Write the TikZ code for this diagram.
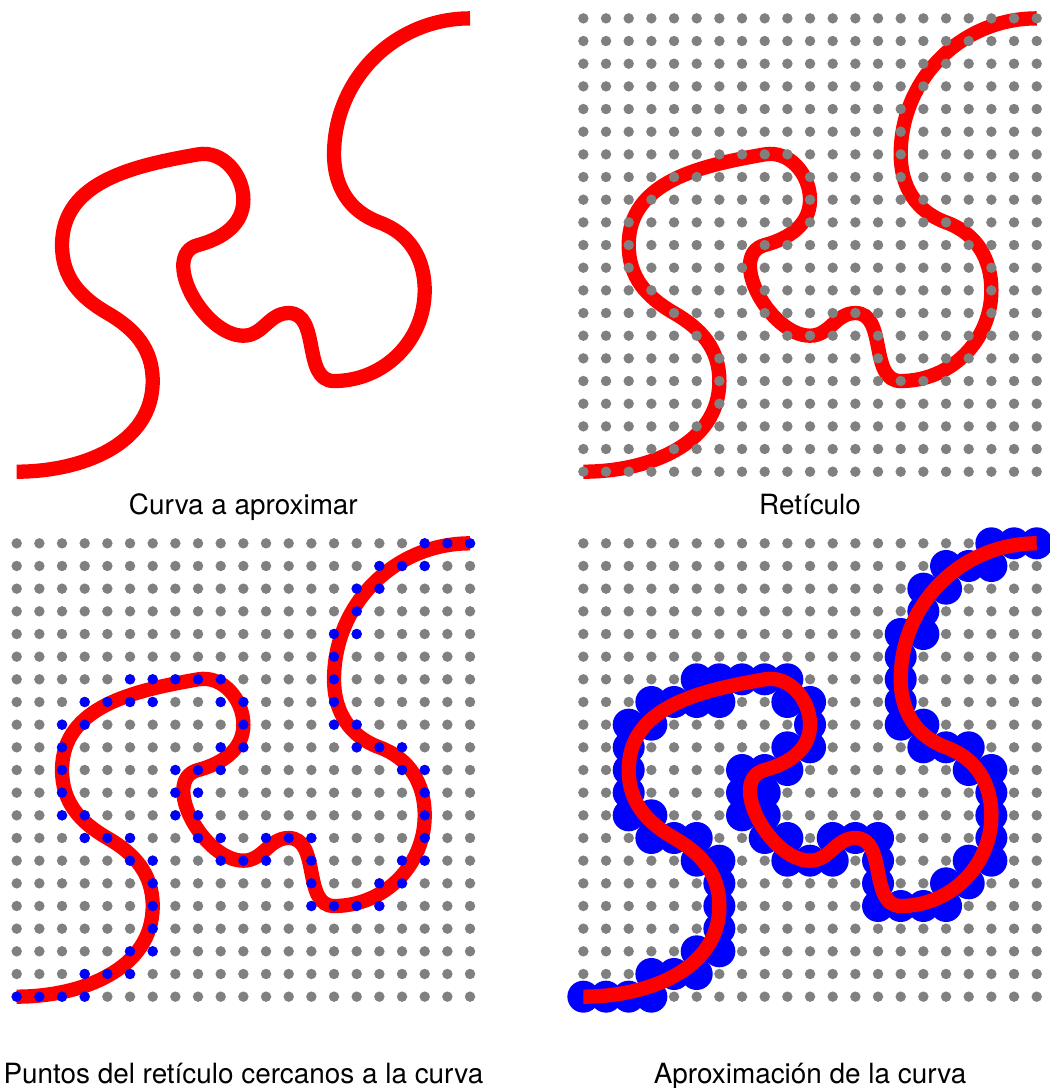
\documentclass[tikz,border=0pt]{standalone}
\usepackage{fontspec}
\setmainfont{TeX Gyre Heros}
\usepackage{tikz}
\usetikzlibrary{positioning}

% la curva, en unidades del reticulo (0..20)
\newcommand{\dibujacurva}{%
  \draw[curva] (0,0) to[out=0,in=-90] (6,4) to[out=90,in=-30] (4,7)
    to[out=150,in=-90] (2,10) to[out=90,in=190] (8,14)
    to[out=10,in=90] (10,12) to[out=-90,in=15] (8,10)
    to[out=195,in=180] (10,6) to[out=0,in=180] (12,7)
    to[out=0,in=180] (14,4) to[out=0,in=-90] (18,8)
    to[out=90,in=-20] (16,11) to[out=160,in=-90] (14,14)
    to[out=90,in=180] (20,20);}

\newcommand{\reticulo}{%
  \foreach \i in {0,...,20}
    \foreach \j in {0,...,20}
      \fill[punto] (\i,\j) circle (0.23);}

% puntos cercanos: fila (desde arriba) / columnas
\newcommand{\cercanos}[2]{%
  \foreach \j/\cols in {0/{18,19,20},1/{16,17,18},2/{15,16},3/{15},4/{14,15},5/{14},
      6/{5,6,7,8,9,14},7/{3,4,5,6,9,10,14},8/{2,3,10,14,15},9/{2,9,10,15,16,17},
      10/{2,7,8,9,17,18},11/{2,7,8,18},12/{2,3,7,8,18},13/{3,4,5,8,9,11,12,13,18},
      14/{5,6,9,10,11,13,17,18},15/{6,13,16,17},16/{6,13,14,15,16},17/{6},
      18/{5,6},19/{3,4,5},20/{0,1,2,3}}
    \foreach \i in \cols
      \fill[#1] (\i,{20-\j}) circle (#2);}

\begin{document}
\begin{tikzpicture}[
    x=0.6cm, y=0.6cm,
    font=\fontsize{21}{25}\selectfont,
    curva/.style={draw=red, line width=0.378cm},
    punto/.style={fill=gray},
    cerca/.style={fill=blue},
    titulo/.style={anchor=base, inner sep=0pt}
]
\useasboundingbox (0,0) rectangle (46.32,-48.0);

% 1. Curva a aproximar
\begin{scope}[shift={(0.737,-20.81)}]
  \dibujacurva
\end{scope}
\node[titulo] (t1) at (10.737,-22.72) {Curva a aproximar};

% 2. Reticulo
\begin{scope}[shift={(25.737,-20.81)}]
  \dibujacurva
  \reticulo
\end{scope}
\node[titulo] (t2) at (35.737,-22.72) {Retículo};

% 3. Puntos cercanos
\begin{scope}[shift={(0.737,-43.97)}]
  \reticulo
  \dibujacurva
  \cercanos{cerca}{0.23}
\end{scope}
\node[titulo] (t3) at (10.737,-47.78) {Puntos del retículo cercanos a la curva};

% 4. Aproximacion
\begin{scope}[shift={(25.737,-43.97)}]
  \reticulo
  \cercanos{cerca}{0.706}
  \dibujacurva
\end{scope}
\node[titulo] (t4) at (35.737,-47.78) {Aproximación de la curva};

\end{tikzpicture}
\end{document}
